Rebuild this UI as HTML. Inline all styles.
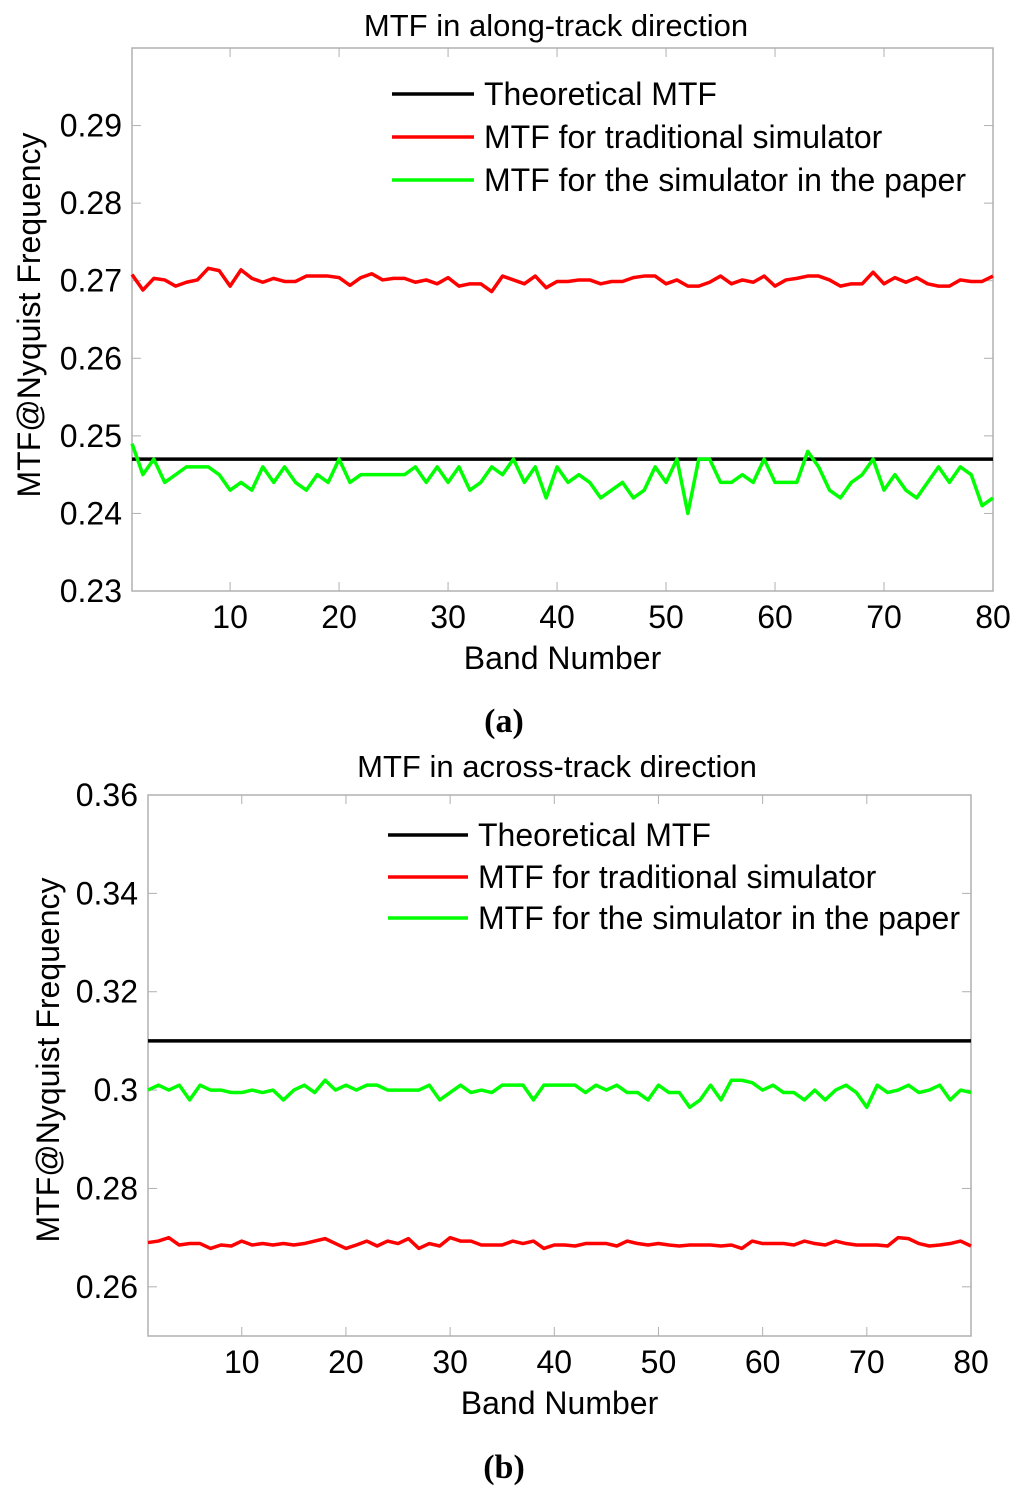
<!DOCTYPE html>
<html><head><meta charset="utf-8"><style>
html,body{margin:0;padding:0;background:#fff;}
svg{display:block;font-family:"Liberation Sans",Arial,sans-serif;}
</style></head><body>
<svg id="fig" width="1024" height="1499" viewBox="0 0 1024 1499" xmlns="http://www.w3.org/2000/svg">
<text x="504" y="732" font-family="Liberation Serif,serif" font-weight="bold" font-size="34" text-anchor="middle">(a)</text>
<text x="504" y="1478" font-family="Liberation Serif,serif" font-weight="bold" font-size="34" text-anchor="middle">(b)</text>
</svg>
<script>
const bands = Array.from({length:80},(_,i)=>i+1);
const xTicks = [10,20,30,40,50,60,70,80];
const yTicksA = [0.23,0.24,0.25,0.26,0.27,0.28,0.29];
const yTickLabelsA = ["0.23","0.24","0.25","0.26","0.27","0.28","0.29"];
const yTicksB = [0.26,0.28,0.30,0.32,0.34,0.36];
const yTickLabelsB = ["0.26","0.28","0.3","0.32","0.34","0.36"];
const theoA = 0.247;
const theoB = 0.310;
const redA = [.2708,.2688,.2703,.2701,.2693,.2698,.2701,.2716,.2713,.2693,.2714,.2703,.2698,.2703,.2699,.2699,.2706,.2706,.2706,.2704,.2694,.2704,.2709,.2701,.2703,.2703,.2698,.2701,.2696,.2704,.2693,.2696,.2696,.2686,.2706,.2701,.2696,.2706,.2691,.2699,.2699,.2701,.2701,.2696,.2699,.2699,.2704,.2706,.2706,.2696,.2701,.2693,.2693,.2698,.2706,.2696,.2701,.2698,.2706,.2693,.2701,.2703,.2706,.2706,.2701,.2693,.2696,.2696,.2711,.2696,.2704,.2698,.2704,.2696,.2693,.2693,.2701,.2699,.2699,.2706];
const greenA = [.249,.245,.247,.244,.245,.246,.246,.246,.245,.243,.244,.243,.246,.244,.246,.244,.243,.245,.244,.247,.244,.245,.245,.245,.245,.245,.246,.244,.246,.244,.246,.243,.244,.246,.245,.247,.244,.246,.242,.246,.244,.245,.244,.242,.243,.244,.242,.243,.246,.244,.247,.240,.247,.247,.244,.244,.245,.244,.247,.244,.244,.244,.248,.246,.243,.242,.244,.245,.247,.243,.245,.243,.242,.244,.246,.244,.246,.245,.241,.242];
const greenB = [.300,.301,.300,.301,.298,.301,.300,.300,.2995,.2995,.300,.2995,.300,.298,.300,.301,.2995,.302,.300,.301,.300,.301,.301,.300,.300,.300,.300,.301,.298,.2995,.301,.2995,.300,.2995,.301,.301,.301,.298,.301,.301,.301,.301,.2995,.301,.300,.301,.2995,.2995,.298,.301,.2995,.2995,.2965,.298,.301,.298,.302,.302,.3015,.300,.301,.2995,.2995,.298,.300,.298,.300,.301,.2995,.2965,.301,.2995,.300,.301,.2995,.300,.301,.298,.300,.2995];
const redB = [.269,.2693,.270,.2685,.2688,.2688,.2678,.2685,.2683,.2693,.2685,.2688,.2685,.2688,.2685,.2688,.2693,.2698,.2688,.2678,.2685,.2693,.2683,.2693,.2688,.2698,.2678,.2688,.2683,.270,.2693,.2693,.2685,.2685,.2685,.2693,.2688,.2693,.2678,.2685,.2685,.2683,.2688,.2688,.2688,.2683,.2693,.2688,.2685,.2688,.2685,.2683,.2685,.2685,.2685,.2683,.2685,.2678,.2693,.2688,.2688,.2688,.2685,.2693,.2688,.2685,.2693,.2688,.2685,.2685,.2685,.2683,.270,.2698,.2688,.2683,.2685,.2688,.2693,.2683];
const legendLabels = ["Theoretical MTF","MTF for traditional simulator","MTF for the simulator in the paper"];

const NS="http://www.w3.org/2000/svg";
const svg=document.getElementById('fig');
function mk(tag,attrs,parent){const e=document.createElementNS(NS,tag);for(const k in attrs)e.setAttribute(k,attrs[k]);(parent||svg).appendChild(e);return e;}

function chart(cfg){
  const g=mk('g',{});
  
  
  const L=cfg.L,R=cfg.R,T=cfg.T,B=cfg.B;
  const xs=v=>L+(v-1)/(79)*(R-L);
  const ys=v=>B-(v-cfg.ymin)/(cfg.ymax-cfg.ymin)*(B-T);
  const box=mk('rect',{x:L,y:T,width:R-L,height:B-T,fill:'none',stroke:'#b0b0b0','stroke-width':1.5},g);
  
  
  xTicks.forEach(t=>{
    const x=xs(t);
    mk('line',{x1:x,x2:x,y1:B,y2:B-9,stroke:'#b0b0b0','stroke-width':1},g);
    mk('line',{x1:x,x2:x,y1:T,y2:T+9,stroke:'#b0b0b0','stroke-width':1},g);
    const tx=mk('text',{x:x,y:B+37,'font-size':32,'text-anchor':'middle'},g);
    tx.textContent=t;
    
    
  });
  cfg.yTicks.forEach((t,i)=>{
    const y=ys(t);
    mk('line',{x1:L,x2:L+9,y1:y,y2:y,stroke:'#b0b0b0','stroke-width':1},g);
    mk('line',{x1:R,x2:R-9,y1:y,y2:y,stroke:'#b0b0b0','stroke-width':1},g);
    const tx=mk('text',{x:L-10,y:y+11,'font-size':32,'text-anchor':'end'},g);
    tx.textContent=cfg.yLabels[i];
    
    
  });
  const tl=mk('text',{x:cfg.titleX,y:cfg.titleY,'font-size':31,'text-anchor':'middle'},g);
  tl.textContent=cfg.title;
  
  
  const xl=mk('text',{x:(L+R)/2,y:B+78,'font-size':32,'text-anchor':'middle'},g);
  xl.textContent='Band Number';
  
  
  const cy=cfg.ylcy;
  const yl=mk('text',{x:cfg.ylx,y:cy,'font-size':32,'text-anchor':'middle',transform:`rotate(-90 ${cfg.ylx} ${cy})`},g);
  yl.textContent='MTF@Nyquist Frequency';
  
  
  const th=mk('line',{x1:L,x2:R,y1:ys(cfg.theo),y2:ys(cfg.theo),stroke:'#000','stroke-width':3.5},g);
  
  
  const pr=mk('polyline',{points:cfg.red.map((v,i)=>xs(bands[i])+','+ys(v)).join(' '),fill:'none',stroke:'#ff0000','stroke-width':3.5,'stroke-linejoin':'round'},g);
  
  
  const pg=mk('polyline',{points:cfg.green.map((v,i)=>xs(bands[i])+','+ys(v)).join(' '),fill:'none',stroke:'#00ff00','stroke-width':3.5,'stroke-linejoin':'round'},g);
  
  
  const cols=['#000','#ff0000','#00ff00'];
  legendLabels.forEach((lab,i)=>{
    const y=cfg.legY[i];
    const ln=mk('line',{x1:cfg.legX,x2:cfg.legX+cfg.legW,y1:y,y2:y,stroke:cols[i],'stroke-width':3.5},g);
    
    
    const t=mk('text',{x:cfg.legX+cfg.legW+10,y:y+11,'font-size':32},g);
    t.textContent=lab;
    
    
  });
}
chart({id:'along-track',L:132,R:993,T:48,B:591,ymin:0.23,ymax:0.30,yTicks:yTicksA,yLabels:yTickLabelsA,title:'MTF in along-track direction',titleX:556,titleY:36,ylx:40,ylcy:315,theo:theoA,red:redA,green:greenA,legX:392,legW:82,legY:[94,137,180]});
chart({id:'across-track',L:148,R:971,T:795,B:1336,ymin:0.25,ymax:0.36,yTicks:yTicksB,yLabels:yTickLabelsB,title:'MTF in across-track direction',titleX:557,titleY:777,ylx:59,ylcy:1060,theo:theoB,red:redB,green:greenB,legX:388,legW:80,legY:[835,877,918]});
</script>
</body></html>
